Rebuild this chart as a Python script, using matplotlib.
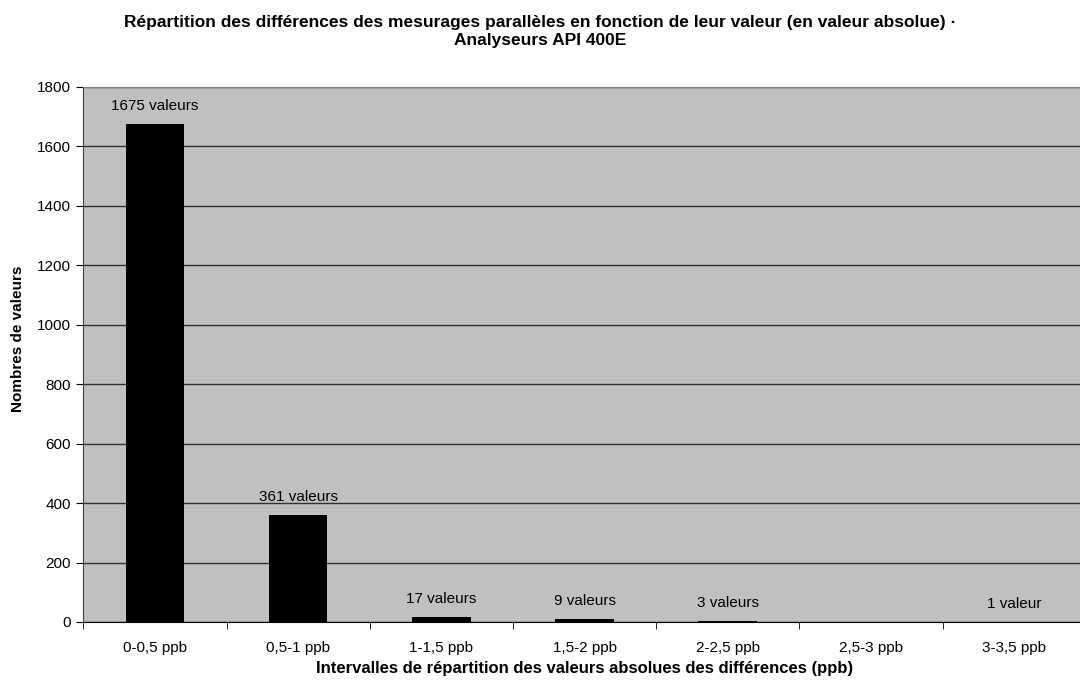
import matplotlib.pyplot as plt

plt.rcParams['font.family'] = ['Liberation Sans', 'DejaVu Sans']

intervals = ["0-0,5 ppb", "0,5-1 ppb", "1-1,5 ppb", "1,5-2 ppb",
             "2-2,5 ppb", "2,5-3 ppb", "3-3,5 ppb"]
counts = [1675, 361, 17, 9, 3, 0, 1]
yticks = [0, 200, 400, 600, 800, 1000, 1200, 1400, 1600, 1800]

fig = plt.figure(figsize=(10.8, 6.86), dpi=100)
ax = fig.add_axes([0.0771, 0.0933, 0.9284, 0.780])
ax.set_facecolor("#c0c0c0")

x = range(len(intervals))
ax.bar(x, counts, width=0.41, color="black", zorder=3)

for i, c in enumerate(counts):
    if c == 0:
        continue
    lab = f"{c} valeur" if c == 1 else f"{c} valeurs"
    ax.annotate(lab, (i, c), xytext=(0, 13), textcoords="offset points",
                ha="center", va="center", fontsize=11, zorder=4)

ax.set_xlim(-0.5, len(intervals) - 0.5)
ax.set_ylim(0, 1800)
ax.set_yticks(yticks)
ax.set_xticks(list(x))
ax.set_xticklabels(intervals)
ax.set_xticks([i - 0.5 for i in range(len(intervals) + 1)], minor=True)
ax.tick_params(axis="x", which="major", length=0, pad=14, labelsize=11)
ax.tick_params(axis="x", which="minor", length=5, color="black")
ax.tick_params(axis="y", length=5, color="black", labelsize=11, pad=4)

ax.yaxis.grid(True, color="#303030", linewidth=1, zorder=1)
ax.set_axisbelow(True)
for side in ["top", "right"]:
    ax.spines[side].set_color("#808080")
ax.spines["left"].set_color("#404040")
ax.spines["bottom"].set_color("black")

ax.set_ylabel("Nombres de valeurs", fontsize=11, fontweight="bold")
ax.yaxis.set_label_coords(-0.058, 0.53)
ax.set_xlabel("Intervalles de répartition des valeurs absolues des différences (ppb)",
              fontsize=12, fontweight="bold", labelpad=4)
fig.text(0.5, 1 - 31 / 686,
         "Répartition des différences des mesurages parallèles en fonction de leur valeur (en valeur absolue) ·\nAnalyseurs API 400E",
         ha="center", va="center", fontsize=12.5, fontweight="bold", linespacing=1.25)

fig.savefig("out.png", dpi=100)
